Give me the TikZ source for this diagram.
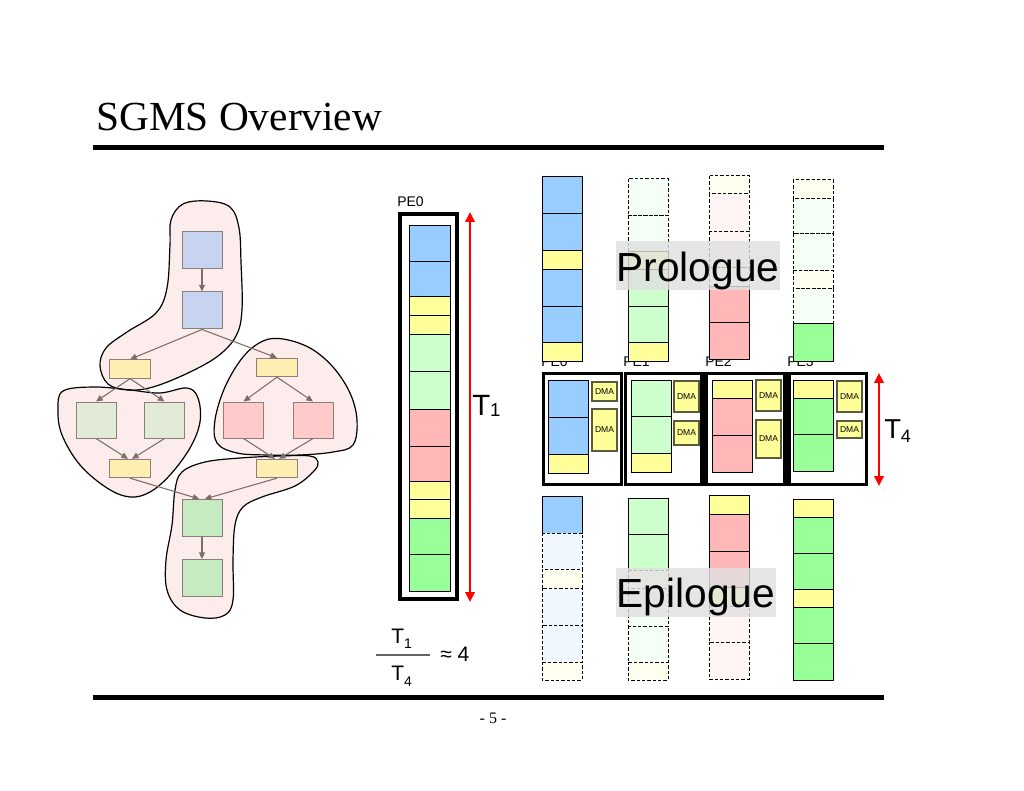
\documentclass[tikz,border=0pt]{standalone}
\usepackage{fontspec}
\setmainfont{Liberation Serif}
\setsansfont{Liberation Sans}
\usetikzlibrary{arrows.meta}
\definecolor{cblue}{HTML}{99CCFF}
\definecolor{cyel}{HTML}{FFFF99}
\definecolor{cltg}{HTML}{CCFFCC}
\definecolor{cpink}{HTML}{FFB7B7}
\definecolor{cgrn}{HTML}{99FF99}
\definecolor{pblue}{HTML}{F1F7FF}
\definecolor{pyel}{HTML}{FFFFF0}
\definecolor{pgrn}{HTML}{F5FFF5}
\definecolor{ppink}{HTML}{FFF5F5}
\definecolor{gblue}{HTML}{C6D4F0}
\definecolor{gyel}{HTML}{FFEEB2}
\definecolor{gpgrn}{HTML}{E1EBD6}
\definecolor{gpink}{HTML}{FFCACA}
\definecolor{ggrn}{HTML}{C7EBC1}
\definecolor{gbord}{HTML}{8C7E78}
\definecolor{garr}{HTML}{7D6E69}
\definecolor{blobc}{HTML}{FDECEC}
\definecolor{dmab}{HTML}{5A5A3C}
\newcommand\blobone{plot[smooth cycle,tension=0.6] coordinates {(207,201) (230,207) (239,228) (241,262) (242,310) (236,336) (218,356) (188,373) (153,387) (128,390) (108,384) (100,366) (106,348) (127,332) (156,313) (167,288) (170,245) (171,220) (183,204)}}
\newcommand\blobtwo{plot[smooth cycle,tension=0.6] coordinates {(63,391) (95,387) (130,390) (160,393) (187,388) (198,398) (200,422) (190,448) (170,475) (150,492) (130,497) (107,488) (80,465) (62,435) (58,410)}}
\newcommand\blobthree{plot[smooth cycle,tension=0.6] coordinates {(283,339) (310,348) (333,367) (350,393) (357,420) (353,445) (333,452) (300,455) (267,455) (237,453) (217,443) (215,420) (225,387) (243,357) (263,341)}}
\newcommand\blobfour{plot[smooth cycle,tension=0.6] coordinates {(182,472) (205,462) (240,458) (280,456) (310,456) (318,462) (314,471) (295,486) (262,497) (243,507) (235,525) (233,560) (233,600) (225,615) (205,618) (180,610) (167,590) (166,560) (172,525) (175,490)}}
\begin{document}
\begin{tikzpicture}[x=0.75pt,y=-0.75pt,
  gnode/.style={draw=gbord,line width=0.75pt,inner sep=0pt,rectangle},
  bigsq/.style={gnode,minimum width=30pt,minimum height=27.75pt},
  midsq/.style={gnode,minimum width=30pt,minimum height=27pt},
  smrect/.style={gnode,fill=gyel,minimum width=31pt,minimum height=13.75pt},
  garrow/.style={draw=garr,line width=0.8pt,-{Triangle[length=5pt,width=4.5pt]}},
  sseg/.style={draw=black,line width=0.75pt},
  dseg/.style={draw=black,line width=0.75pt,dash pattern=on 2.6pt off 1.4pt},
  pebox/.style={draw=black,line width=2.6pt,fill=white},
  dma/.style={draw=dmab,fill=cyel,line width=0.9pt,inner sep=0pt,font=\sffamily\fontsize{6.4}{6.4}\selectfont},
  redarr/.style={draw=red,line width=1.9pt,{Triangle[length=7.5pt,width=7pt]}-{Triangle[length=7.5pt,width=7pt]}},
  lblbg/.style={fill=gray!24,fill opacity=0.82,draw=none},
  bigtxt/.style={inner sep=0pt,anchor=base,font=\sffamily\fontsize{30.5}{30.5}\selectfont},
  pelbl/.style={inner sep=0pt,anchor=base west,font=\sffamily\fontsize{10.5}{10.5}\selectfont}
]
\useasboundingbox (0,0) rectangle (1024,791);
\fill[white] (0,0) rectangle (1024,791);

% title and rules
\node[anchor=base west,inner sep=0pt,font=\fontsize{31}{31}\selectfont] (title) at (96,131) {SGMS Overview};
\draw[line width=3.75pt] (93,147.5) -- (884,147.5);
\draw[line width=3.75pt] (93,697) -- (884,697);
\node[inner sep=0pt,font=\fontsize{12}{12}\selectfont] (pg) at (493,718) {- 5 -};

% ---------- left graph ----------
\fill[blobc] \blobone;
\fill[blobc] \blobtwo;
\fill[blobc] \blobthree;
\fill[blobc] \blobfour;
\draw[black,line width=0.9pt] \blobone;
\draw[black,line width=0.9pt] \blobtwo;
\draw[black,line width=0.9pt] \blobthree;
\draw[black,line width=0.9pt] \blobfour;

\node[bigsq,fill=gblue] (b1) at (202,250.5) {};
\node[bigsq,fill=gblue] (b2) at (202,310.5) {};
\node[smrect] (yl) at (130,369) {};
\node[smrect] (yr) at (277,367.5) {};
\node[midsq,fill=gpgrn] (gl1) at (96,420) {};
\node[midsq,fill=gpgrn] (gl2) at (164.5,420) {};
\node[midsq,fill=gpink] (p1) at (243.5,420) {};
\node[midsq,fill=gpink] (p2) at (313,420) {};
\node[smrect] (yb1) at (130,468.5) {};
\node[smrect] (yb2) at (277,468.5) {};
\node[bigsq,fill=ggrn] (g1) at (202,518) {};
\node[bigsq,fill=ggrn] (g2) at (202,578) {};

\draw[garrow] (b1.south) -- (b2.north);
\draw[garrow] (b2.south) -- (yl.north);
\draw[garrow] (b2.south) -- (yr.north);
\draw[garrow] (yl.south) -- (gl1.north);
\draw[garrow] (yl.south) -- (gl2.north);
\draw[garrow] (yr.south) -- (p1.north);
\draw[garrow] (yr.south) -- (p2.north);
\draw[garrow] (gl1.south) -- ([xshift=-1.5pt]yb1.north);
\draw[garrow] (gl2.south) -- ([xshift=1.5pt]yb1.north);
\draw[garrow] (p1.south) -- ([xshift=-1.5pt]yb2.north);
\draw[garrow] (p2.south) -- ([xshift=1.5pt]yb2.north);
\draw[garrow] (yb1.south) -- ([xshift=-2pt]g1.north);
\draw[garrow] (yb2.south) -- ([xshift=2pt]g1.north);
\draw[garrow] (g1.south) -- (g2.north);

% ---------- PE0 single column ----------
\node[pelbl] (pe0lbl) at (397,207) {PE0};
\draw[line width=2.6pt] (400,214) rectangle (457,599);
\draw[sseg,fill=cblue] (409,226) rectangle (450,262);
\draw[sseg,fill=cblue] (409,262) rectangle (450,297);
\draw[sseg,fill=cyel] (409,297) rectangle (450,316);
\draw[sseg,fill=cyel] (409,316) rectangle (450,335);
\draw[sseg,fill=cltg] (409,335) rectangle (450,372);
\draw[sseg,fill=cltg] (409,372) rectangle (450,409);
\draw[sseg,fill=cpink] (409,409) rectangle (450,446);
\draw[sseg,fill=cpink] (409,446) rectangle (450,481);
\draw[sseg,fill=cyel] (409,481) rectangle (450,499);
\draw[sseg,fill=cyel] (409,499) rectangle (450,518);
\draw[sseg,fill=cgrn] (409,518) rectangle (450,554);
\draw[sseg,fill=cgrn] (409,554) rectangle (450,591);
\coordinate (t1top) at (470,212);
\coordinate (t1bot) at (470,602);
\draw[redarr] (t1top) -- (t1bot);
\node[inner sep=0pt,anchor=base west,font=\sffamily\fontsize{22}{22}\selectfont] (t1lbl) at (472,415) {T\raisebox{-1.5pt}{\fontsize{14}{14}\selectfont 1}};

% ---------- middle row labels (under columns) ----------
\node[pelbl] (m0) at (541,367) {PE0};
\node[pelbl] (m1) at (623,367) {PE1};
\node[pelbl] (m2) at (705,367) {PE2};
\node[pelbl] (m3) at (787,367) {PE3};

% ---------- prologue columns ----------
% PE0
\draw[sseg,fill=cblue] (542,177) rectangle (582,214);
\draw[sseg,fill=cblue] (542,214) rectangle (582,251);
\draw[sseg,fill=cyel] (542,251) rectangle (582,270);
\draw[sseg,fill=cblue] (542,270) rectangle (582,307);
\draw[sseg,fill=cblue] (542,307) rectangle (582,343);
\draw[sseg,fill=cyel] (542,343) rectangle (582,362);
% PE1
\draw[dseg,fill=pgrn] (628,179) rectangle (668,216);
\draw[dseg,fill=pgrn] (628,216) rectangle (668,252);
\draw[sseg,fill=cyel] (628,252) rectangle (668,270);
\draw[sseg,fill=cltg] (628,270) rectangle (668,307);
\draw[sseg,fill=cltg] (628,307) rectangle (668,343);
\draw[sseg,fill=cyel] (628,343) rectangle (668,362);
% PE2
\draw[dseg,fill=pyel] (709,176) rectangle (749,194);
\draw[dseg,fill=ppink] (709,194) rectangle (749,232);
\draw[dseg,fill=ppink] (709,232) rectangle (749,268);
\draw[dseg,fill=pyel] (709,268) rectangle (749,287);
\draw[sseg,fill=cpink] (709,287) rectangle (749,323);
\draw[sseg,fill=cpink] (709,323) rectangle (749,360);
% PE3
\draw[dseg,fill=pyel] (793,180) rectangle (833,199);
\draw[dseg,fill=pgrn] (793,199) rectangle (833,234);
\draw[dseg,fill=pgrn] (793,234) rectangle (833,271);
\draw[dseg,fill=pyel] (793,271) rectangle (833,289);
\draw[dseg,fill=pgrn] (793,289) rectangle (833,324);
\draw[sseg,fill=cgrn] (793,324) rectangle (833,362);

\fill[lblbg] (616,241) rectangle (780,290);
\node[bigtxt] (prol) at (698,282) {Prologue};

% ---------- middle steady state ----------
\draw[pebox] (543.5,373.5) rectangle (621.5,484.5);
\draw[pebox] (625.5,373.5) rectangle (702,484.5);
\draw[pebox] (706,373.5) rectangle (785,484.5);
\draw[pebox] (789,373.5) rectangle (866.5,484.5);
% PE0
\draw[sseg,fill=cblue] (548,381) rectangle (588,417);
\draw[sseg,fill=cblue] (548,417) rectangle (588,454);
\draw[sseg,fill=cyel] (548,454) rectangle (588,473);
\node[dma,minimum width=18.75pt,minimum height=14.25pt] (d01) at (604.5,391.5) {DMA};
\node[dma,minimum width=18.75pt,minimum height=31.5pt] (d02) at (604.5,430) {DMA};
% PE1
\draw[sseg,fill=cltg] (631,381) rectangle (671,416);
\draw[sseg,fill=cltg] (631,416) rectangle (671,453);
\draw[sseg,fill=cyel] (631,453) rectangle (671,472);
\node[dma,minimum width=18.75pt,minimum height=23.25pt] (d11) at (686.5,396.5) {DMA};
\node[dma,minimum width=18.75pt,minimum height=18pt] (d12) at (686.5,433) {DMA};
% PE2
\draw[sseg,fill=cyel] (712,381) rectangle (752,398);
\draw[sseg,fill=cpink] (712,398) rectangle (752,435);
\draw[sseg,fill=cpink] (712,435) rectangle (752,472);
\node[dma,minimum width=18.75pt,minimum height=23.25pt] (d21) at (768.5,395.5) {DMA};
\node[dma,minimum width=18.75pt,minimum height=28.5pt] (d22) at (768.5,439) {DMA};
% PE3
\draw[sseg,fill=cyel] (793,381) rectangle (833,398);
\draw[sseg,fill=cgrn] (793,398) rectangle (833,434);
\draw[sseg,fill=cgrn] (793,434) rectangle (833,471);
\node[dma,minimum width=18.75pt,minimum height=23.25pt] (d31) at (849.5,396.5) {DMA};
\node[dma,minimum width=18.75pt,minimum height=12.75pt] (d32) at (849.5,429.5) {DMA};

\coordinate (t4top) at (879,373);
\coordinate (t4bot) at (879,486);
\draw[redarr] (t4top) -- (t4bot);
\node[inner sep=0pt,anchor=base west,font=\sffamily\fontsize{20.5}{20.5}\selectfont] (t4lbl) at (884,438) {T\raisebox{-3.5pt}{\fontsize{13.5}{13.5}\selectfont 4}};

% ---------- epilogue columns ----------
% PE0
\draw[sseg,fill=cblue] (542,496) rectangle (582,533);
\draw[dseg,fill=pblue] (542,533) rectangle (582,569);
\draw[dseg,fill=pyel] (542,569) rectangle (582,588);
\draw[dseg,fill=pblue] (542,588) rectangle (582,625);
\draw[dseg,fill=pblue] (542,625) rectangle (582,662);
\draw[dseg,fill=pyel] (542,662) rectangle (582,680);
% PE1
\draw[sseg,fill=cltg] (628,498) rectangle (668,534);
\draw[sseg,fill=cltg] (628,534) rectangle (668,570);
\draw[dseg,fill=pyel] (628,570) rectangle (668,588);
\draw[dseg,fill=pgrn] (628,588) rectangle (668,626);
\draw[dseg,fill=pgrn] (628,626) rectangle (668,662);
\draw[dseg,fill=pyel] (628,662) rectangle (668,680);
% PE2
\draw[sseg,fill=cyel] (709,495) rectangle (749,514);
\draw[sseg,fill=cpink] (709,514) rectangle (749,551);
\draw[sseg,fill=cpink] (709,551) rectangle (749,587);
\draw[sseg,fill=cyel] (709,587) rectangle (749,606);
\draw[dseg,fill=ppink] (709,606) rectangle (749,642);
\draw[dseg,fill=ppink] (709,642) rectangle (749,679);
% PE3
\draw[sseg,fill=cyel] (793,499) rectangle (833,517);
\draw[sseg,fill=cgrn] (793,517) rectangle (833,553);
\draw[sseg,fill=cgrn] (793,553) rectangle (833,589);
\draw[sseg,fill=cyel] (793,589) rectangle (833,607);
\draw[sseg,fill=cgrn] (793,607) rectangle (833,643);
\draw[sseg,fill=cgrn] (793,643) rectangle (833,680);

\fill[lblbg] (616,568) rectangle (776,617);
\node[bigtxt] (epil) at (696,607) {Epilogue};

% ---------- ratio ----------
\node[inner sep=0pt,anchor=base west,font=\sffamily\fontsize{15.75}{15.75}\selectfont] (rnum) at (391,643) {T\raisebox{-3.75pt}{\fontsize{10.5}{10.5}\selectfont 1}};
\node[inner sep=0pt,anchor=base west,font=\sffamily\fontsize{15.75}{15.75}\selectfont] (rden) at (391,680) {T\raisebox{-4.5pt}{\fontsize{10.5}{10.5}\selectfont 4}};
\draw[line width=0.8pt,black!60] (376,655) -- (430,655);
\node[inner sep=0pt,anchor=base west,font=\sffamily\fontsize{15.75}{15.75}\selectfont] (approx) at (440,661) {≈ 4};
\end{tikzpicture}
\end{document}
